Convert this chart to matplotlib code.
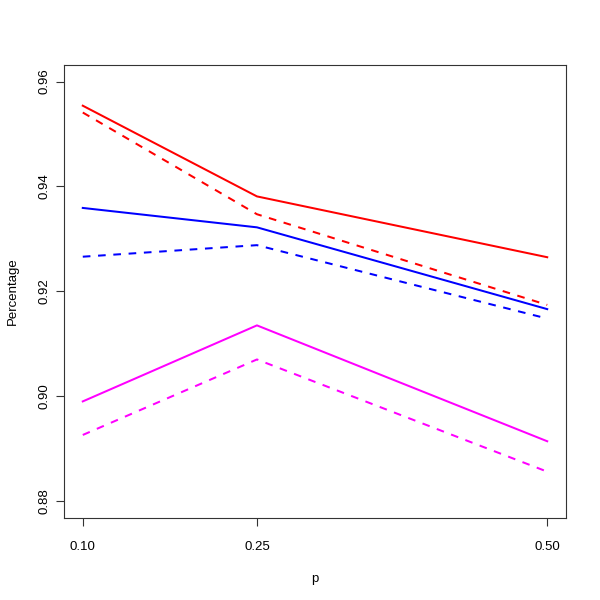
import matplotlib
matplotlib.use("Agg")
import matplotlib.pyplot as plt

plt.rcParams['font.family'] = ['Liberation Sans', 'DejaVu Sans']

p = [0.10, 0.25, 0.50]
red_solid = [0.9554, 0.9381, 0.9265]
red_dashed = [0.9541, 0.9347, 0.9174]
blue_solid = [0.9359, 0.9322, 0.9166]
blue_dashed = [0.9266, 0.9288, 0.9148]
magenta_solid = [0.8990, 0.9135, 0.8914]
magenta_dashed = [0.8926, 0.9070, 0.8856]

xticks = [0.10, 0.25, 0.50]
xticklabels = ["0.10", "0.25", "0.50"]
yticks = [0.88, 0.90, 0.92, 0.94, 0.96]
yticklabels = ["0.88", "0.90", "0.92", "0.94", "0.96"]

fig = plt.figure(figsize=(6, 6), dpi=100)
ax = fig.add_axes([0.107, 0.137, 0.836, 0.755])

lw = 1.45
ax.plot(p, red_solid, color="#FF0000", lw=lw)
ax.plot(p, red_dashed, color="#FF0000", lw=lw, dashes=(3.8, 3.8))
ax.plot(p, blue_solid, color="#0000FF", lw=lw)
ax.plot(p, blue_dashed, color="#0000FF", lw=lw, dashes=(3.8, 3.8))
ax.plot(p, magenta_solid, color="#FF00FF", lw=lw)
ax.plot(p, magenta_dashed, color="#FF00FF", lw=lw, dashes=(3.8, 3.8))

xr = 0.5 - 0.1
ax.set_xlim(0.1 - 0.04 * xr, 0.5 + 0.04 * xr)
yr = 0.96 - 0.88
ax.set_ylim(0.88 - 0.04 * yr, 0.96 + 0.04 * yr)

ax.set_xticks(xticks)
ax.set_xticklabels(xticklabels)
ax.set_yticks(yticks)
ax.set_yticklabels(yticklabels, rotation=90, va="center")

for s in ax.spines.values():
    s.set_color("#333333")
    s.set_linewidth(0.8)

ax.tick_params(axis="both", direction="out", length=6, width=0.8, color="#333333",
               labelsize=9.5)
ax.tick_params(axis="x", pad=11)
ax.tick_params(axis="y", pad=4)
ax.set_xlabel("p", fontsize=9.5, labelpad=14)
ax.set_ylabel("Percentage", fontsize=9.5, labelpad=14)

fig.savefig("out.png", dpi=100, facecolor="white")
